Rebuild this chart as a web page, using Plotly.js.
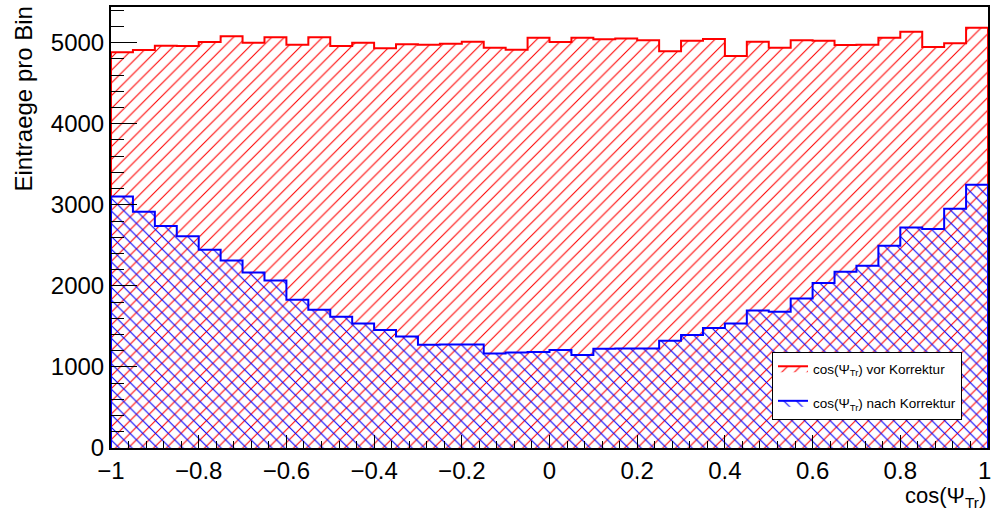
<!DOCTYPE html>
<html>
<head>
<meta charset="utf-8">
<script src="https://cdn.plot.ly/plotly-3.0.1.min.js"></script>
<style>
  html, body { margin: 0; padding: 0; background: #fff; }
  #plot { width: 992px; height: 509px; }
</style>
</head>
<body>
<div id="plot"></div>
<script>
// Histogram binning: 40 bins over cos(Psi_Tr) in [-1, 1]
const binLow = -1;
const binHigh = 1;
const nBins = 40;

// Entries per bin before correction
const countsBefore = [
  4882, 4910, 4963, 4959, 5009, 5079, 5000, 5066, 4975, 5066,
  4959, 5000, 4931, 4980, 4975, 4988, 5012, 4938, 4914, 5062,
  5009, 5062, 5042, 5050, 5029, 4894, 5025, 5045, 4836, 5012,
  4938, 5029, 5025, 4972, 4975, 5062, 5136, 4947, 4993, 5185
];

// Entries per bin after correction
const countsAfter = [
  3102, 2913, 2740, 2613, 2445, 2313, 2165, 2066, 1828, 1705,
  1619, 1536, 1455, 1376, 1273, 1277, 1277, 1166, 1179, 1185,
  1208, 1146, 1224, 1228, 1228, 1323, 1393, 1479, 1536, 1696,
  1680, 1844, 2034, 2173, 2247, 2494, 2720, 2700, 2950, 3246
];

const xTickVals = [-1, -0.8, -0.6, -0.4, -0.2, 0, 0.2, 0.4, 0.6, 0.8, 1];
// last label padded with a no-break space so it stays inside the page edge
const xTickText = ['\u22121', '\u22120.8', '\u22120.6', '\u22120.4', '\u22120.2', '0', '0.2', '0.4', '0.6', '0.8', '1\u00a0'];
const yTickVals = [0, 1000, 2000, 3000, 4000, 5000];

const labelBefore = 'cos(\u03A8<sub>Tr</sub>) vor Korrektur';
const labelAfter = 'cos(\u03A8<sub>Tr</sub>) nach Korrektur';

const FONT = 'Liberation Sans, Arial, Helvetica, sans-serif';

// Build a ROOT-like step outline (closed down to zero at both ends)
function stepOutline(counts) {
  const w = (binHigh - binLow) / nBins;
  const xs = [binLow];
  const ys = [0];
  for (let i = 0; i < counts.length; i++) {
    xs.push(binLow + i * w);
    ys.push(counts[i]);
  }
  xs.push(binHigh); ys.push(counts[counts.length - 1]);
  xs.push(binHigh); ys.push(0);
  return { xs, ys };
}

function histTrace(counts, color, shape, name, group) {
  const s = stepOutline(counts);
  return {
    type: 'scatter',
    mode: 'lines',
    x: s.xs,
    y: s.ys,
    name: name,
    legendgroup: group,
    line: { shape: 'hv', color: color, width: 2 },
    fill: 'tozeroy',
    fillcolor: 'rgba(0,0,0,0)',
    fillpattern: {
      shape: shape,
      fgcolor: color,
      bgcolor: 'rgba(0,0,0,0)',
      size: 9,
      solidity: 0.12
    },
    hoverinfo: 'skip'
  };
}

const data = [
  histTrace(countsBefore, '#ff0000', '/', labelBefore, 'a'),
  histTrace(countsAfter, '#0000ff', '\\', labelAfter, 'b')
];

const axisCommon = {
  showgrid: false,
  zeroline: false,
  showline: true,
  mirror: true,
  linecolor: '#000',
  linewidth: 2,
  ticks: 'inside',
  tickcolor: '#000',
  tickwidth: 1,
  ticklabeloverflow: 'allow',
  tickfont: { family: FONT, size: 24, color: '#000' }
};

const layout = {
  width: 992,
  height: 509,
  margin: { l: 111, r: 4, t: 7, b: 61 },
  paper_bgcolor: '#fff',
  plot_bgcolor: '#fff',
  showlegend: true,
  xaxis: Object.assign({}, axisCommon, {
    range: [binLow, binHigh],
    tickvals: xTickVals,
    ticktext: xTickText,
    ticklen: 13,
    minor: { dtick: 0.04, tick0: -1, ticks: 'inside', ticklen: 7, tickcolor: '#000', tickwidth: 1, showgrid: false }
  }),
  yaxis: Object.assign({}, axisCommon, {
    range: [0, 5440],
    tickvals: yTickVals,
    ticklen: 26,
    minor: { dtick: 200, tick0: 0, ticks: 'inside', ticklen: 13, tickcolor: '#000', tickwidth: 1, showgrid: false }
  }),
  legend: {
    x: 0.7537,
    y: 0.2177,
    xanchor: 'left',
    yanchor: 'top',
    bgcolor: '#fff',
    bordercolor: '#000',
    borderwidth: 1,
    traceorder: 'grouped',
    tracegroupgap: 14,
    font: { family: FONT, size: 13.5, color: '#000' }
  },
  annotations: [
    {
      text: 'Eintraege pro Bin',
      xref: 'paper', yref: 'paper',
      x: -0.0992, y: 1.0045,
      xanchor: 'center', yanchor: 'top',
      textangle: -90,
      showarrow: false,
      font: { family: FONT, size: 24, color: '#000' }
    },
    {
      text: 'cos(\u03A8<sub>Tr</sub>)',
      xref: 'paper', yref: 'paper',
      x: 1.0, y: -0.074,
      xanchor: 'right', yanchor: 'top',
      showarrow: false,
      font: { family: FONT, size: 22, color: '#000' }
    }
  ]
};

Plotly.newPlot('plot', data, layout, { staticPlot: true, displayModeBar: false });
</script>
</body>
</html>
